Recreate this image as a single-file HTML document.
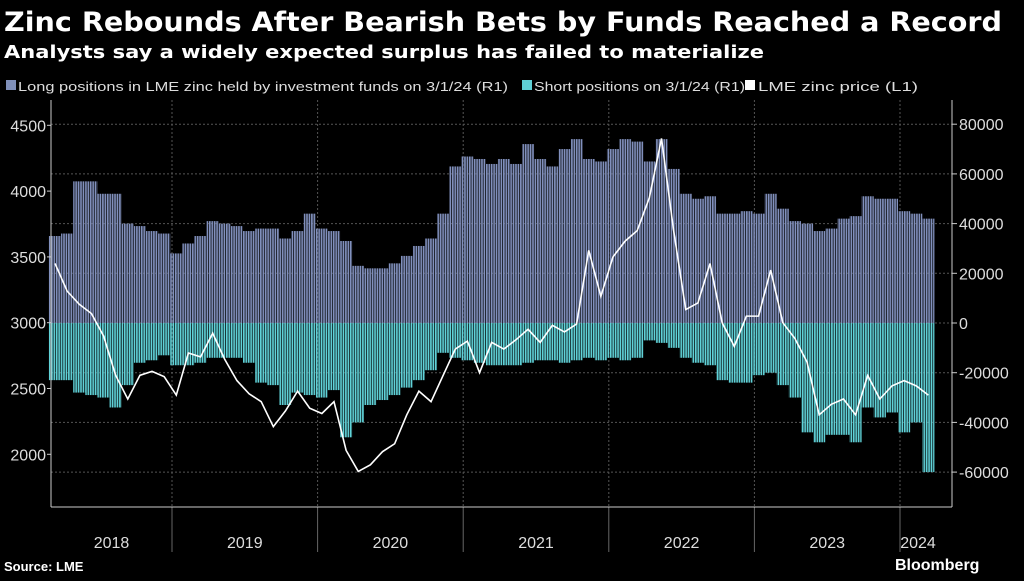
<!DOCTYPE html>
<html><head><meta charset="utf-8"><style>
body{margin:0;background:#000;width:1024px;height:576px;overflow:hidden;font-family:"Liberation Sans",sans-serif;color:#fff}
</style></head><body>
<svg width="1024" height="576" xmlns="http://www.w3.org/2000/svg">
<defs>
<pattern id="pl" width="2.43" height="10" patternUnits="userSpaceOnUse"><rect width="1.7" height="10" fill="#8190bd"/></pattern>
<pattern id="ps" width="2.43" height="10" patternUnits="userSpaceOnUse"><rect width="1.7" height="10" fill="#60d2d8"/></pattern>
</defs>
<rect width="1024" height="576" fill="#000"/>
<text x="4" y="31" font-size="27" font-weight="bold" fill="#fff" font-family="DejaVu Sans, sans-serif" textLength="998" lengthAdjust="spacingAndGlyphs">Zinc Rebounds After Bearish Bets by Funds Reached a Record</text>
<text x="4" y="58" font-size="18" font-weight="bold" fill="#fff" font-family="DejaVu Sans, sans-serif" textLength="760" lengthAdjust="spacingAndGlyphs">Analysts say a widely expected surplus has failed to materialize</text>
<g font-size="13" fill="#ddd">
<rect x="6" y="80" width="10" height="10" fill="#7f8fb9"/>
<text x="18" y="91" textLength="490" lengthAdjust="spacingAndGlyphs">Long positions in LME zinc held by investment funds on 3/1/24 (R1)</text>
<rect x="522" y="80" width="10" height="10" fill="#5fd0d6"/>
<text x="534" y="91" textLength="211" lengthAdjust="spacingAndGlyphs">Short positions on 3/1/24 (R1)</text>
<rect x="745" y="80" width="10" height="10" fill="#fff"/>
<text x="758" y="91" textLength="160" lengthAdjust="spacingAndGlyphs">LME zinc price (L1)</text>
</g>
<g id="grid"></g>
<g id="bars"></g>
<g id="line"></g>
<g id="axes"></g>
<text x="4" y="571" font-size="13" font-weight="bold" fill="#fff">Source: LME</text>
<text x="895" y="570" font-size="16" font-weight="bold" fill="#fff">Bloomberg</text>
</svg>
<script>
const years=["2018","2019","2020","2021","2022","2023","2024"];
const leftTicks=[2000,2500,3000,3500,4000,4500];
const rightTicks=[-60000,-40000,-20000,0,20000,40000,60000,80000];
const longPos=[35,36,57,57,52,52,40,39,37,36,28,32,35,41,40,39,37,38,38,34,37,44,38,37,33,23,22,22,24,27,31,34,44,63,67,66,64,66,64,72,66,63,70,74,66,65,70,74,73,65,74,62,52,50,51,44,44,45,44,52,46,41,40,37,38,42,43,51,50,50,45,44,42];
const shortPos=[-23,-23,-28,-29,-30,-34,-25,-16,-15,-13,-17,-17,-16,-14,-14,-14,-16,-24,-25,-33,-28,-29,-30,-27,-46,-40,-33,-31,-29,-26,-23,-19,-12,-14,-15,-16,-17,-17,-17,-16,-15,-15,-16,-15,-14,-15,-14,-15,-14,-7,-8,-10,-14,-16,-17,-23,-24,-24,-21,-20,-25,-30,-44,-48,-45,-45,-48,-34,-38,-36,-44,-40,-60];
const price=[3450,3240,3140,3070,2900,2600,2420,2600,2630,2590,2450,2770,2740,2920,2720,2560,2460,2400,2210,2330,2480,2350,2310,2400,2030,1870,1920,2020,2080,2300,2480,2400,2600,2800,2860,2620,2850,2800,2870,2950,2850,2980,2930,2990,3550,3200,3500,3620,3700,3950,4400,3700,3100,3150,3450,3000,2820,3050,3050,3400,3000,2880,2700,2300,2380,2420,2300,2600,2420,2520,2560,2520,2450];
const NS="http://www.w3.org/2000/svg";
const X0=51,X1=952,YB=507,mStep=12.13;
const xm=i=>X0+4+i*mStep;
const yL=v=>322.7-(v-3000)/500*65.8;
const yR=v=>323-v/20000*49.7;
function mk(t,a,p){const e=document.createElementNS(NS,t);for(const k in a)e.setAttribute(k,a[k]);p.appendChild(e);return e;}
const grid=document.getElementById('grid'),bars=document.getElementById('bars'),line=document.getElementById('line'),axes=document.getElementById('axes');
rightTicks.forEach(v=>{const l=mk('line',{x1:X0,x2:X1,y1:yR(v),y2:yR(v),stroke:'#555','stroke-dasharray':'2,2','stroke-width':1},grid);


const t=mk('text',{x:X1+7,y:yR(v)+6,'font-size':16,fill:'#ddd'},axes);t.textContent=v;


mk('line',{x1:X1,x2:X1+5,y1:yR(v),y2:yR(v),stroke:'#ccc'},axes);});
leftTicks.forEach(v=>{const t=mk('text',{x:46,y:yL(v)+6,'font-size':16,fill:'#ddd','text-anchor':'end'},axes);t.textContent=v;


mk('line',{x1:X0-4,x2:X0,y1:yL(v),y2:yL(v),stroke:'#ccc'},axes);});
const yearStart=172,yearW=145.6;
years.forEach((y,i)=>{const xs=yearStart+(i-1)*yearW;const a=Math.max(X0,xs),b=Math.min(X1,xs+yearW);
if(i>0){mk('line',{x1:xs,x2:xs,y1:100,y2:YB,stroke:'#555','stroke-dasharray':'2,2'},grid);mk('line',{x1:xs,x2:xs,y1:YB,y2:552,stroke:'#666'},axes);}
const t=mk('text',{x:i==6?xs+18:(a+b)/2,y:548,'font-size':16,fill:'#ddd','text-anchor':'middle'},axes);t.textContent=y;

});
longPos.forEach((v,i)=>{const r=mk('rect',{x:xm(i)-6.07,y:yR(v*1000),width:12.13,height:yR(0)-yR(v*1000),fill:'url(#pl)'},bars);

});
shortPos.forEach((v,i)=>{const r=mk('rect',{x:xm(i)-6.07,y:yR(0),width:12.13,height:yR(v*1000)-yR(0),fill:'url(#ps)'},bars);

});
const p=mk('polyline',{points:price.map((v,i)=>xm(i)+','+yL(v)).join(' '),fill:'none',stroke:'#fff','stroke-width':1.6},line);


mk('line',{x1:X0,x2:X0,y1:100,y2:YB,stroke:'#ccc'},axes);
mk('line',{x1:X1,x2:X1,y1:100,y2:YB,stroke:'#ccc'},axes);
mk('line',{x1:X0,x2:X1,y1:YB,y2:YB,stroke:'#ccc'},axes);
</script>
</body></html>
